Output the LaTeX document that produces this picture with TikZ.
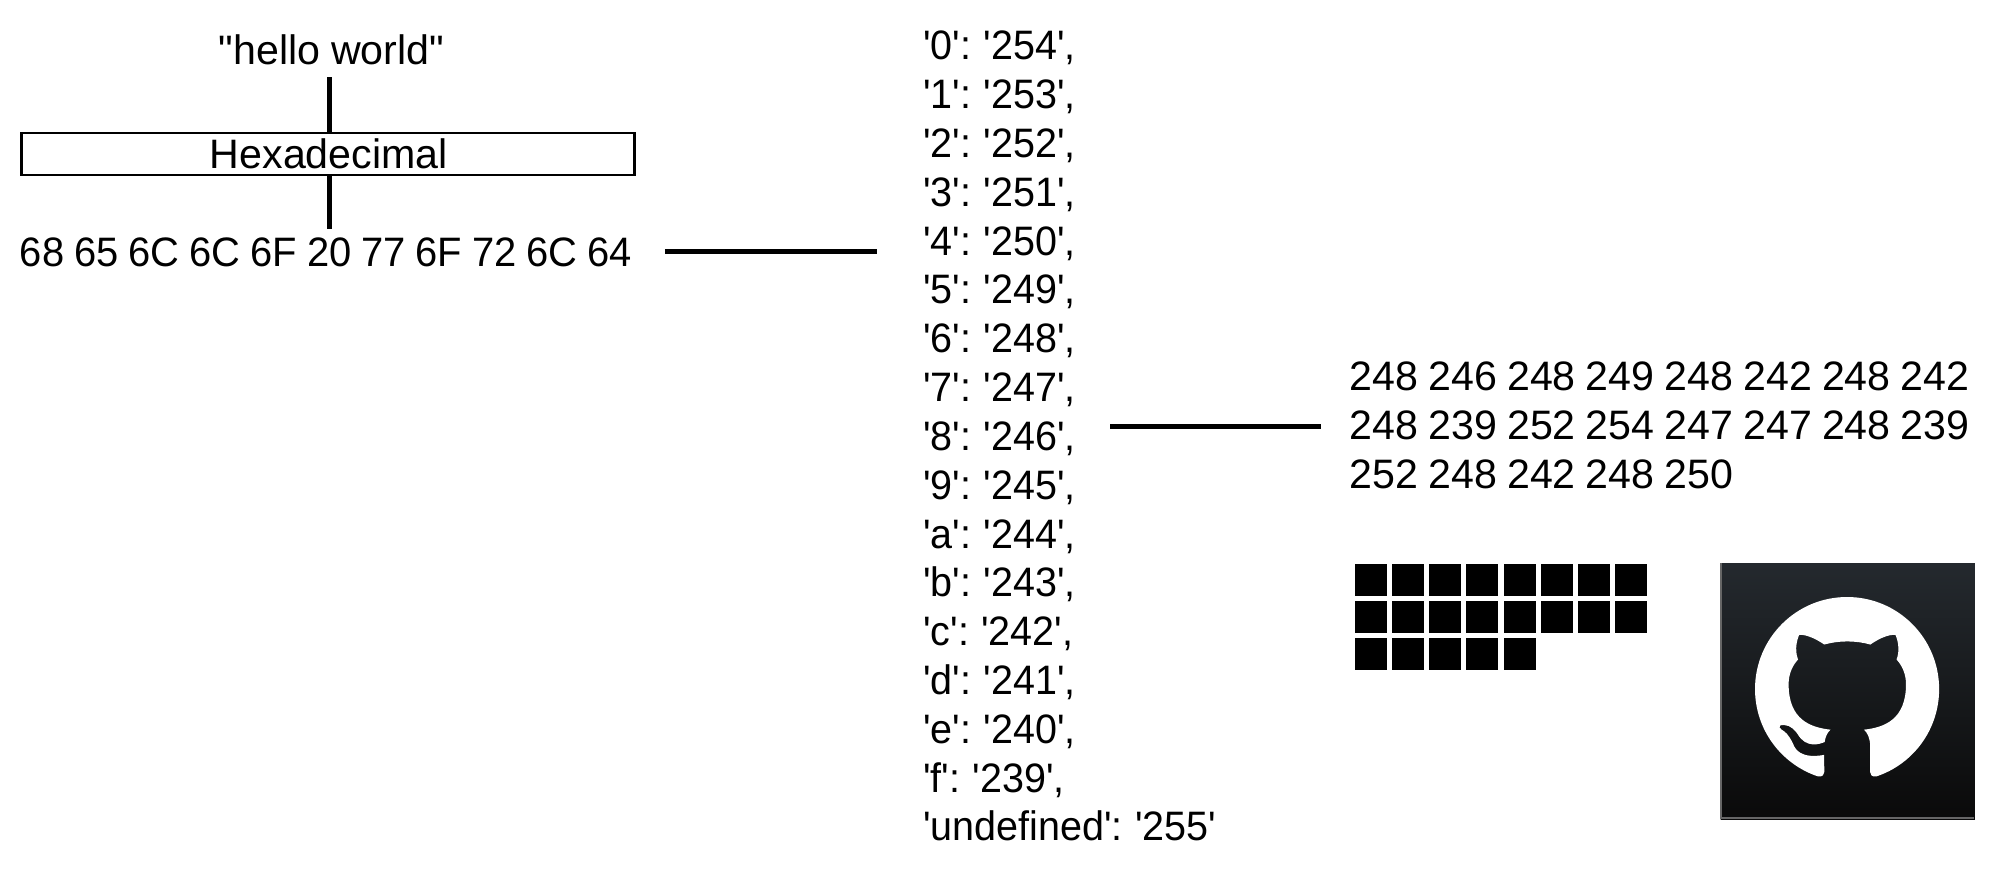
\documentclass[tikz,border=0pt]{standalone}
\usepackage{fontspec}
\newfontfamily\diagramfont{Liberation Sans}
\newfontfamily\hexfont{Liberation Sans}[FakeStretch=0.97, WordSpace=0.9]
\newfontfamily\listfont{Liberation Sans}[FakeStretch=0.96, WordSpace=0.8]
\newfontfamily\bytefont{Liberation Sans}[WordSpace=0.94]
\definecolor{logotop}{HTML}{24292E}
\definecolor{logobot}{HTML}{0A0A0A}
\tikzset{
  txt/.style={font=\diagramfont\fontsize{11.7pt}{13pt}\selectfont, anchor=base, inner sep=0pt},
  hextxt/.style={txt, font=\hexfont\fontsize{11.7pt}{13pt}\selectfont},
  listtxt/.style={txt, anchor=base west, font=\listfont\fontsize{11.7pt}{13pt}\selectfont},
  bytetxt/.style={txt, anchor=base west, font=\bytefont\fontsize{11.7pt}{13pt}\selectfont},
  conn/.style={line width=0.5mm},
  bytecell/.style={fill=black, anchor=north west, inner sep=0pt, minimum width=3.2mm, minimum height=3.2mm},
}
\begin{document}
\begin{tikzpicture}[x=0.01cm, y=-0.01cm]
\useasboundingbox (0,0) rectangle (2000,870);
\node[txt, inner ysep=1.1mm] (hello) at (331.5, 65) {"hello world"};
\node[draw, line width=0.25mm, inner sep=0pt, minimum width=6.13cm, minimum height=0.415cm] (hexbox) at (328, 154) {};
\node[txt] (hexname) at (328.8, 169) {Hexadecimal};
\node[hextxt, inner ysep=0.8mm, inner xsep=3.2mm] (hexstr) at (326, 266) {68 65 6C 6C 6F 20 77 6F 72 6C 64};
\coordinate (stem) at (329, 0);
\draw[conn] (stem |- hello.south) -- (stem |- hexbox.north);
\draw[conn] (stem |- hexstr.north) -- (stem |- hexbox.south);
\coordinate (listin) at (877, 250);
\draw[conn] (hexstr.east) -- (hexstr.east -| listin);
\node[listtxt] (row0) at (922.5, 60) {'0': '254',};
\node[listtxt] (row1) at (922.5, 108.8) {'1': '253',};
\node[listtxt] (row2) at (922.5, 157.6) {'2': '252',};
\node[listtxt] (row3) at (922.5, 206.4) {'3': '251',};
\node[listtxt] (row4) at (922.5, 255.2) {'4': '250',};
\node[listtxt] (row5) at (922.5, 304) {'5': '249',};
\node[listtxt] (row6) at (922.5, 352.8) {'6': '248',};
\node[listtxt] (row7) at (922.5, 401.6) {'7': '247',};
\node[listtxt] (row8) at (922.5, 450.4) {'8': '246',};
\node[listtxt] (row9) at (922.5, 499.2) {'9': '245',};
\node[listtxt] (rowa) at (922.5, 548) {'a': '244',};
\node[listtxt] (rowb) at (922.5, 596.8) {'b': '243',};
\node[listtxt] (rowc) at (922.5, 645.6) {'c': '242',};
\node[listtxt] (rowd) at (922.5, 694.4) {'d': '241',};
\node[listtxt] (rowe) at (922.5, 743.2) {'e': '240',};
\node[listtxt] (rowf) at (922.5, 792) {'f': '239',};
\node[listtxt] (rowu) at (922.5, 840.8) {'undefined': '255'};
\node[bytetxt] (bytes1) at (1349, 390) {248 246 248 249 248 242 248 242};
\node[bytetxt, inner xsep=2.8mm, xshift=-2.8mm] (bytes2) at (1349, 439) {248 239 252 254 247 247 248 239};
\node[bytetxt] (bytes3) at (1349, 488) {252 248 242 248 250};
\coordinate (listout) at (1110, 426);
\draw[conn] (listout) -- (listout -| bytes2.west);
\node[bytecell] (cell1) at (1354, 563) {}; % byte.1
\node[bytecell] (cell2) at (1391.2, 563) {}; % byte.2
\node[bytecell] (cell3) at (1428.4, 563) {}; % byte.3
\node[bytecell] (cell4) at (1465.6, 563) {}; % byte.4
\node[bytecell] (cell5) at (1502.8, 563) {}; % byte.5
\node[bytecell] (cell6) at (1540, 563) {}; % byte.6
\node[bytecell] (cell7) at (1577.2, 563) {}; % byte.7
\node[bytecell] (cell8) at (1614.4, 563) {}; % byte.8
\node[bytecell] (cell9) at (1354, 600.3) {}; % byte.9
\node[bytecell] (cell10) at (1391.2, 600.3) {}; % byte.10
\node[bytecell] (cell11) at (1428.4, 600.3) {}; % byte.11
\node[bytecell] (cell12) at (1465.6, 600.3) {}; % byte.12
\node[bytecell] (cell13) at (1502.8, 600.3) {}; % byte.13
\node[bytecell] (cell14) at (1540, 600.3) {}; % byte.14
\node[bytecell] (cell15) at (1577.2, 600.3) {}; % byte.15
\node[bytecell] (cell16) at (1614.4, 600.3) {}; % byte.16
\node[bytecell] (cell17) at (1354, 637.6) {}; % byte.17
\node[bytecell] (cell18) at (1391.2, 637.6) {}; % byte.18
\node[bytecell] (cell19) at (1428.4, 637.6) {}; % byte.19
\node[bytecell] (cell20) at (1465.6, 637.6) {}; % byte.20
\node[bytecell] (cell21) at (1502.8, 637.6) {}; % byte.21
\node[top color=logotop, bottom color=logobot, anchor=north west, inner sep=0pt, minimum width=2.54cm, minimum height=2.56cm] (ghlogo) at (1720, 563) {};
\draw[line width=0.25mm, black!60] (1721.2, 563) -- (1721.2, 817.8) -- (1974, 817.8);
\begin{scope}[shift={(1755, 597)}, x=0.115cm, y=-0.115cm]
\fill[white] (8,0) .. controls (3.58,0) and (0,3.58) .. (0,8)
  .. controls (0,11.54) and (2.29,14.53) .. (5.47,15.59)
  .. controls (5.87,15.66) and (6.02,15.42) .. (6.02,15.21)
  .. controls (6.02,15.02) and (6.01,14.39) .. (6.01,13.72)
  .. controls (4,14.09) and (3.48,13.23) .. (3.32,12.78)
  .. controls (3.23,12.55) and (2.84,11.84) .. (2.5,11.65)
  .. controls (2.22,11.5) and (1.82,11.13) .. (2.49,11.12)
  .. controls (3.12,11.11) and (3.57,11.7) .. (3.72,11.94)
  .. controls (4.44,13.15) and (5.59,12.81) .. (6.05,12.6)
  .. controls (6.12,12.08) and (6.33,11.73) .. (6.56,11.53)
  .. controls (4.78,11.33) and (2.92,10.64) .. (2.92,7.58)
  .. controls (2.92,6.71) and (3.23,5.99) .. (3.74,5.43)
  .. controls (3.66,5.23) and (3.38,4.41) .. (3.82,3.31)
  .. controls (3.82,3.31) and (4.49,3.1) .. (6.02,4.13)
  .. controls (6.66,3.95) and (7.34,3.86) .. (8.02,3.86)
  .. controls (8.7,3.86) and (9.38,3.95) .. (10.02,4.13)
  .. controls (11.55,3.09) and (12.22,3.31) .. (12.22,3.31)
  .. controls (12.66,4.41) and (12.38,5.23) .. (12.3,5.43)
  .. controls (12.81,5.99) and (13.12,6.71) .. (13.12,7.58)
  .. controls (13.12,10.65) and (11.25,11.33) .. (9.47,11.53)
  .. controls (9.76,11.78) and (10.01,12.26) .. (10.01,13.01)
  .. controls (10.01,14.08) and (10,14.94) .. (10,15.21)
  .. controls (10,15.42) and (10.15,15.67) .. (10.55,15.59)
  .. controls (13.73,14.53) and (16,11.54) .. (16,8)
  .. controls (16,3.58) and (12.42,0) .. (8,0) -- cycle;
\end{scope}
\end{tikzpicture}
\end{document}
